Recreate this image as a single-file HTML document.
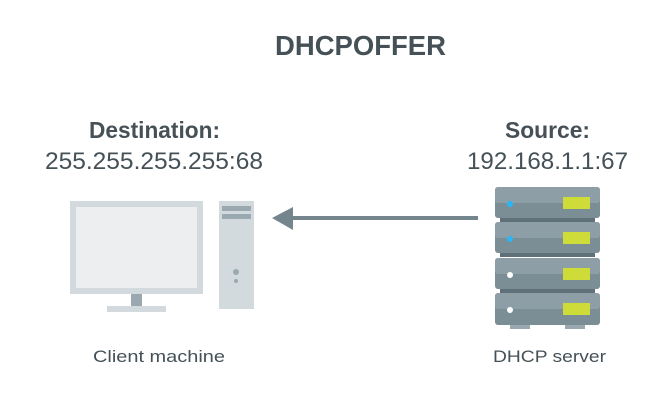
<!DOCTYPE html>
<html><head><meta charset="utf-8"><style>
html,body{margin:0;padding:0;background:#fff;}
svg{display:block;}
text{font-family:"Liberation Sans",Arial,sans-serif;fill:#455157;}
</style></head><body>
<svg width="662" height="401" viewBox="0 0 662 401" xmlns="http://www.w3.org/2000/svg">
<text x="275" y="55" font-size="28" font-weight="bold" textLength="171" lengthAdjust="spacingAndGlyphs">DHCPOFFER</text>
<text x="89" y="138" font-size="23" font-weight="bold" textLength="131" lengthAdjust="spacingAndGlyphs">Destination:</text>
<text x="45" y="169" font-size="24" textLength="218" lengthAdjust="spacingAndGlyphs">255.255.255.255:68</text>
<text x="505" y="138" font-size="23" font-weight="bold" textLength="85" lengthAdjust="spacingAndGlyphs">Source:</text>
<text x="467" y="169" font-size="24" textLength="161" lengthAdjust="spacingAndGlyphs">192.168.1.1:67</text>
<text x="93" y="362" font-size="17" textLength="132" lengthAdjust="spacingAndGlyphs">Client machine</text>
<text x="493" y="362" font-size="17" textLength="113" lengthAdjust="spacingAndGlyphs">DHCP server</text>
<!-- monitor -->
<rect x="70" y="201" width="133" height="93" fill="#d3dadd"/>
<rect x="76" y="207" width="121" height="81" fill="#eceef0"/>
<rect x="131" y="294" width="11" height="12" fill="#9aa9b0"/>
<rect x="107" y="306" width="59" height="6" fill="#d3dadd"/>
<!-- tower -->
<rect x="219" y="201" width="35" height="108" fill="#d3dadd"/>
<rect x="222" y="206" width="29" height="5" fill="#9aa9b0"/>
<rect x="222" y="214" width="29" height="5" fill="#9aa9b0"/>
<circle cx="236" cy="272" r="3" fill="#9aa9b0"/>
<circle cx="236" cy="281" r="2" fill="#9aa9b0"/>
<!-- arrow -->
<rect x="290" y="216" width="188" height="4" fill="#74858d"/>
<polygon points="272,218 293,207 293,230" fill="#74858d"/>
<!-- server -->
<g>
<rect x="500" y="217" width="95" height="5" fill="#5f7079"/>
<rect x="500" y="252" width="95" height="5" fill="#5f7079"/>
<rect x="500" y="288" width="95" height="5" fill="#5f7079"/>
<rect x="510" y="325" width="20" height="4" fill="#9aa9b0"/>
<rect x="565" y="325" width="20" height="4" fill="#9aa9b0"/>
</g>
<g id="u">
<rect x="495" y="187" width="105" height="31" rx="3" fill="#7b8d95"/>
<rect x="495" y="187" width="105" height="16" rx="3" fill="#8d9ea6"/>
<rect x="563" y="197" width="27" height="12" fill="#cddc39"/>
<circle cx="510" cy="204" r="3" fill="#29b6f6"/>
</g>
<g transform="translate(0,35)">
<rect x="495" y="187" width="105" height="31" rx="3" fill="#7b8d95"/>
<rect x="495" y="187" width="105" height="16" rx="3" fill="#8d9ea6"/>
<rect x="563" y="197" width="27" height="12" fill="#cddc39"/>
<circle cx="510" cy="204" r="3" fill="#29b6f6"/>
</g>
<g transform="translate(0,71)">
<rect x="495" y="187" width="105" height="31" rx="3" fill="#7b8d95"/>
<rect x="495" y="187" width="105" height="16" rx="3" fill="#8d9ea6"/>
<rect x="563" y="197" width="27" height="12" fill="#cddc39"/>
<circle cx="510" cy="204" r="3" fill="#ffffff"/>
</g>
<g transform="translate(0,106)">
<rect x="495" y="187" width="105" height="32" rx="3" fill="#7b8d95"/>
<rect x="495" y="187" width="105" height="16" rx="3" fill="#8d9ea6"/>
<rect x="563" y="197" width="27" height="12" fill="#cddc39"/>
<circle cx="510" cy="204" r="3" fill="#ffffff"/>
</g>
</svg>
</body></html>
